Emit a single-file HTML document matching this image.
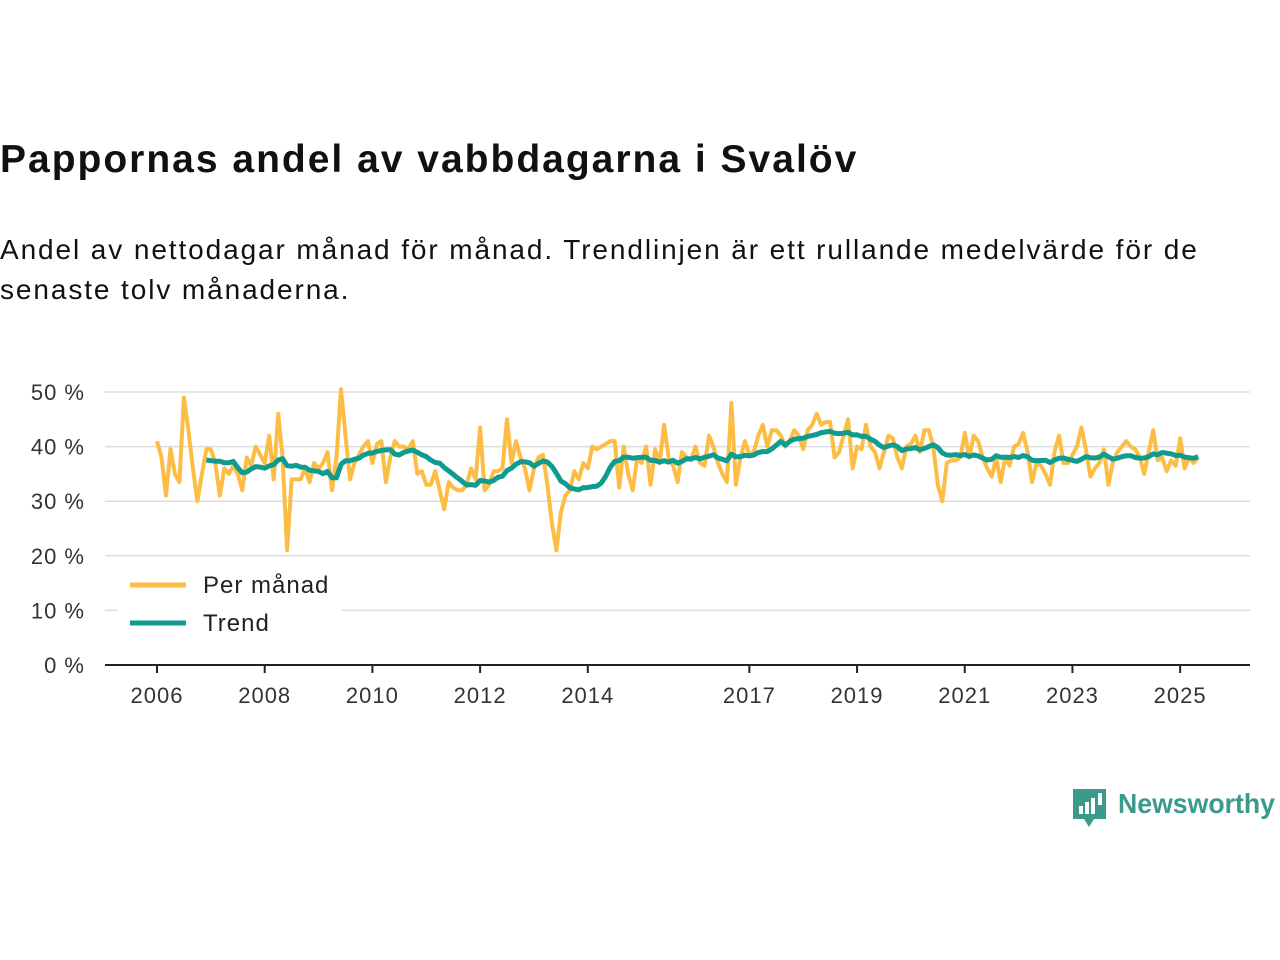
<!DOCTYPE html>
<html><head><meta charset="utf-8"><style>
body{margin:0;width:1280px;height:960px;background:#fff;font-family:"Liberation Sans","DejaVu Sans",sans-serif;color:#111;overflow:hidden;position:relative}
#t{position:absolute;left:0;top:138px;font-size:39px;font-weight:bold;margin:0;letter-spacing:2px;white-space:nowrap}
#s{position:absolute;left:0;top:230px;font-size:28px;line-height:40px;width:1275px;margin:0;letter-spacing:1.9px}
svg{position:absolute;left:0;top:0}
</style></head><body>
<h1 id="t">Pappornas andel av vabbdagarna i Svalöv</h1>
<p id="s">Andel av nettodagar månad för månad. Trendlinjen är ett rullande medelvärde för de senaste tolv månaderna.</p>
<svg id="c" width="1280" height="960"></svg>
<script>
const monthly=[
41,38,31,39.5,35,33.5,49,43,36,30,35,39.5,
39.5,37,31,36,35,36.5,35,32,38,36.5,40,38.5,
37,42,34,46,38,21,34,34,34,36,33.5,37,
36,37,39,32,38,50.5,42,34,37,38.5,40,41,
37,40.5,41,33.5,38,41,40,40,39.5,41,35,35.5,
33,33,35.5,32,28.5,33.5,32.5,32,32,33,36,34,
43.5,32,33,35.5,35.5,36,45,37,41,38,36,32,
36,38,38.5,33,26,21,28,31,32,35.5,34,37,
36,40,39.5,40,40.5,41,41,32.5,40,35,32,38,
37,40,33,39.5,37,44,38,36.5,33.5,39,38,37.5,
40,37,36.5,42,40,37,35,33.5,48,33,38,41,
38.5,39,42,44,40,43,43,42,40,41,43,42,
39.5,43,44,46,44,44.5,44.5,38,39,42,45,36,
40,39.5,44,40,39,36,39,42,41.5,38,36,40,
40.5,42,39,43,43,40,33,30,37,37.5,37.5,38,
42.5,38,42,41,38,36,34.5,38,33.5,38,36.5,40,
40.5,42.5,39,33.5,37,36.5,35,33,39,42,37,37,
38.5,40,43.5,39.5,34.5,36,37,39.5,33,37,39,40,
41,40,39.5,38,35,39,43,37.5,38,35.5,37.5,36.5,
41.5,36,38,37,38];
const startYear=2006;
const yTicks=[0,10,20,30,40,50];
const xTicks=[2006,2008,2010,2012,2014,2017,2019,2021,2023,2025];
const NS="http://www.w3.org/2000/svg";
const svg=document.getElementById('c');
const X=t=>157+(t-2006)*53.85;
const Y=v=>665-v*5.46;
function el(tag,a,p){const e=document.createElementNS(NS,tag);for(const k in a)e.setAttribute(k,a[k]);(p||svg).appendChild(e);return e;}
yTicks.forEach(v=>{
 const g=el('line',{x1:105,x2:1250,y1:Y(v),y2:Y(v),stroke:v===0?'#222':'#ddd','stroke-width':v===0?2:1.5});
 
 
 const t=el('text',{x:85,y:Y(v)+8,'text-anchor':'end','font-size':22,fill:'#333','letter-spacing':'1'});
 t.textContent=v+' %';
 
 
});
xTicks.forEach(yr=>{
 const l=el('line',{x1:X(yr),x2:X(yr),y1:665,y2:673,stroke:'#222','stroke-width':2});
 
 
 const t=el('text',{x:X(yr),y:703,'text-anchor':'middle','font-size':22,fill:'#333','letter-spacing':'1'});
 t.textContent=yr;
 
 
});
const tm=i=>startYear+i/12;
let d=monthly.map((v,i)=>(i?'L':'M')+X(tm(i)).toFixed(1)+','+Y(v).toFixed(1)).join('');
const p1=el('path',{d:d,fill:'none',stroke:'#fdbd45','stroke-width':4,'stroke-linejoin':'round'});


let td='';
for(let i=11;i<monthly.length;i++){let s=0;for(let j=i-11;j<=i;j++)s+=monthly[j];td+=(i===11?'M':'L')+X(tm(i)).toFixed(1)+','+Y(s/12).toFixed(1);}
const p2=el('path',{d:td,fill:'none',stroke:'#0f9b8e','stroke-width':5,'stroke-linejoin':'round'});


const lb=el('rect',{x:118,y:566,width:224,height:74,fill:'#fff'});


[['Per månad','#fdbd45',585],['Trend','#0f9b8e',623]].forEach(([n,c,y])=>{
 const l=el('line',{x1:130,x2:186,y1:y,y2:y,stroke:c,'stroke-width':5});
 
 
 const t=el('text',{x:203,y:y+8,'font-size':24,fill:'#222','letter-spacing':'1'});
 t.textContent=n;
 
 
});
const lg=el('g',{});


el('path',{d:'M1073,789 h33 v30 h-12 l-5,8 l-5,-8 h-11 z',fill:'#3a9a8c'},lg);
[[1079,806,4,8],[1085,802,4,12],[1091,798,4,16],[1098,793,4,12]].forEach(r=>el('rect',{x:r[0],y:r[1],width:r[2],height:r[3],fill:'#fff'},lg));
const lt=el('text',{x:1118,y:813,'font-size':28,fill:'#3a9a8c','font-weight':'bold',textLength:157,lengthAdjust:'spacingAndGlyphs'},lg);
lt.textContent='Newsworthy';
</script>
</body></html>
